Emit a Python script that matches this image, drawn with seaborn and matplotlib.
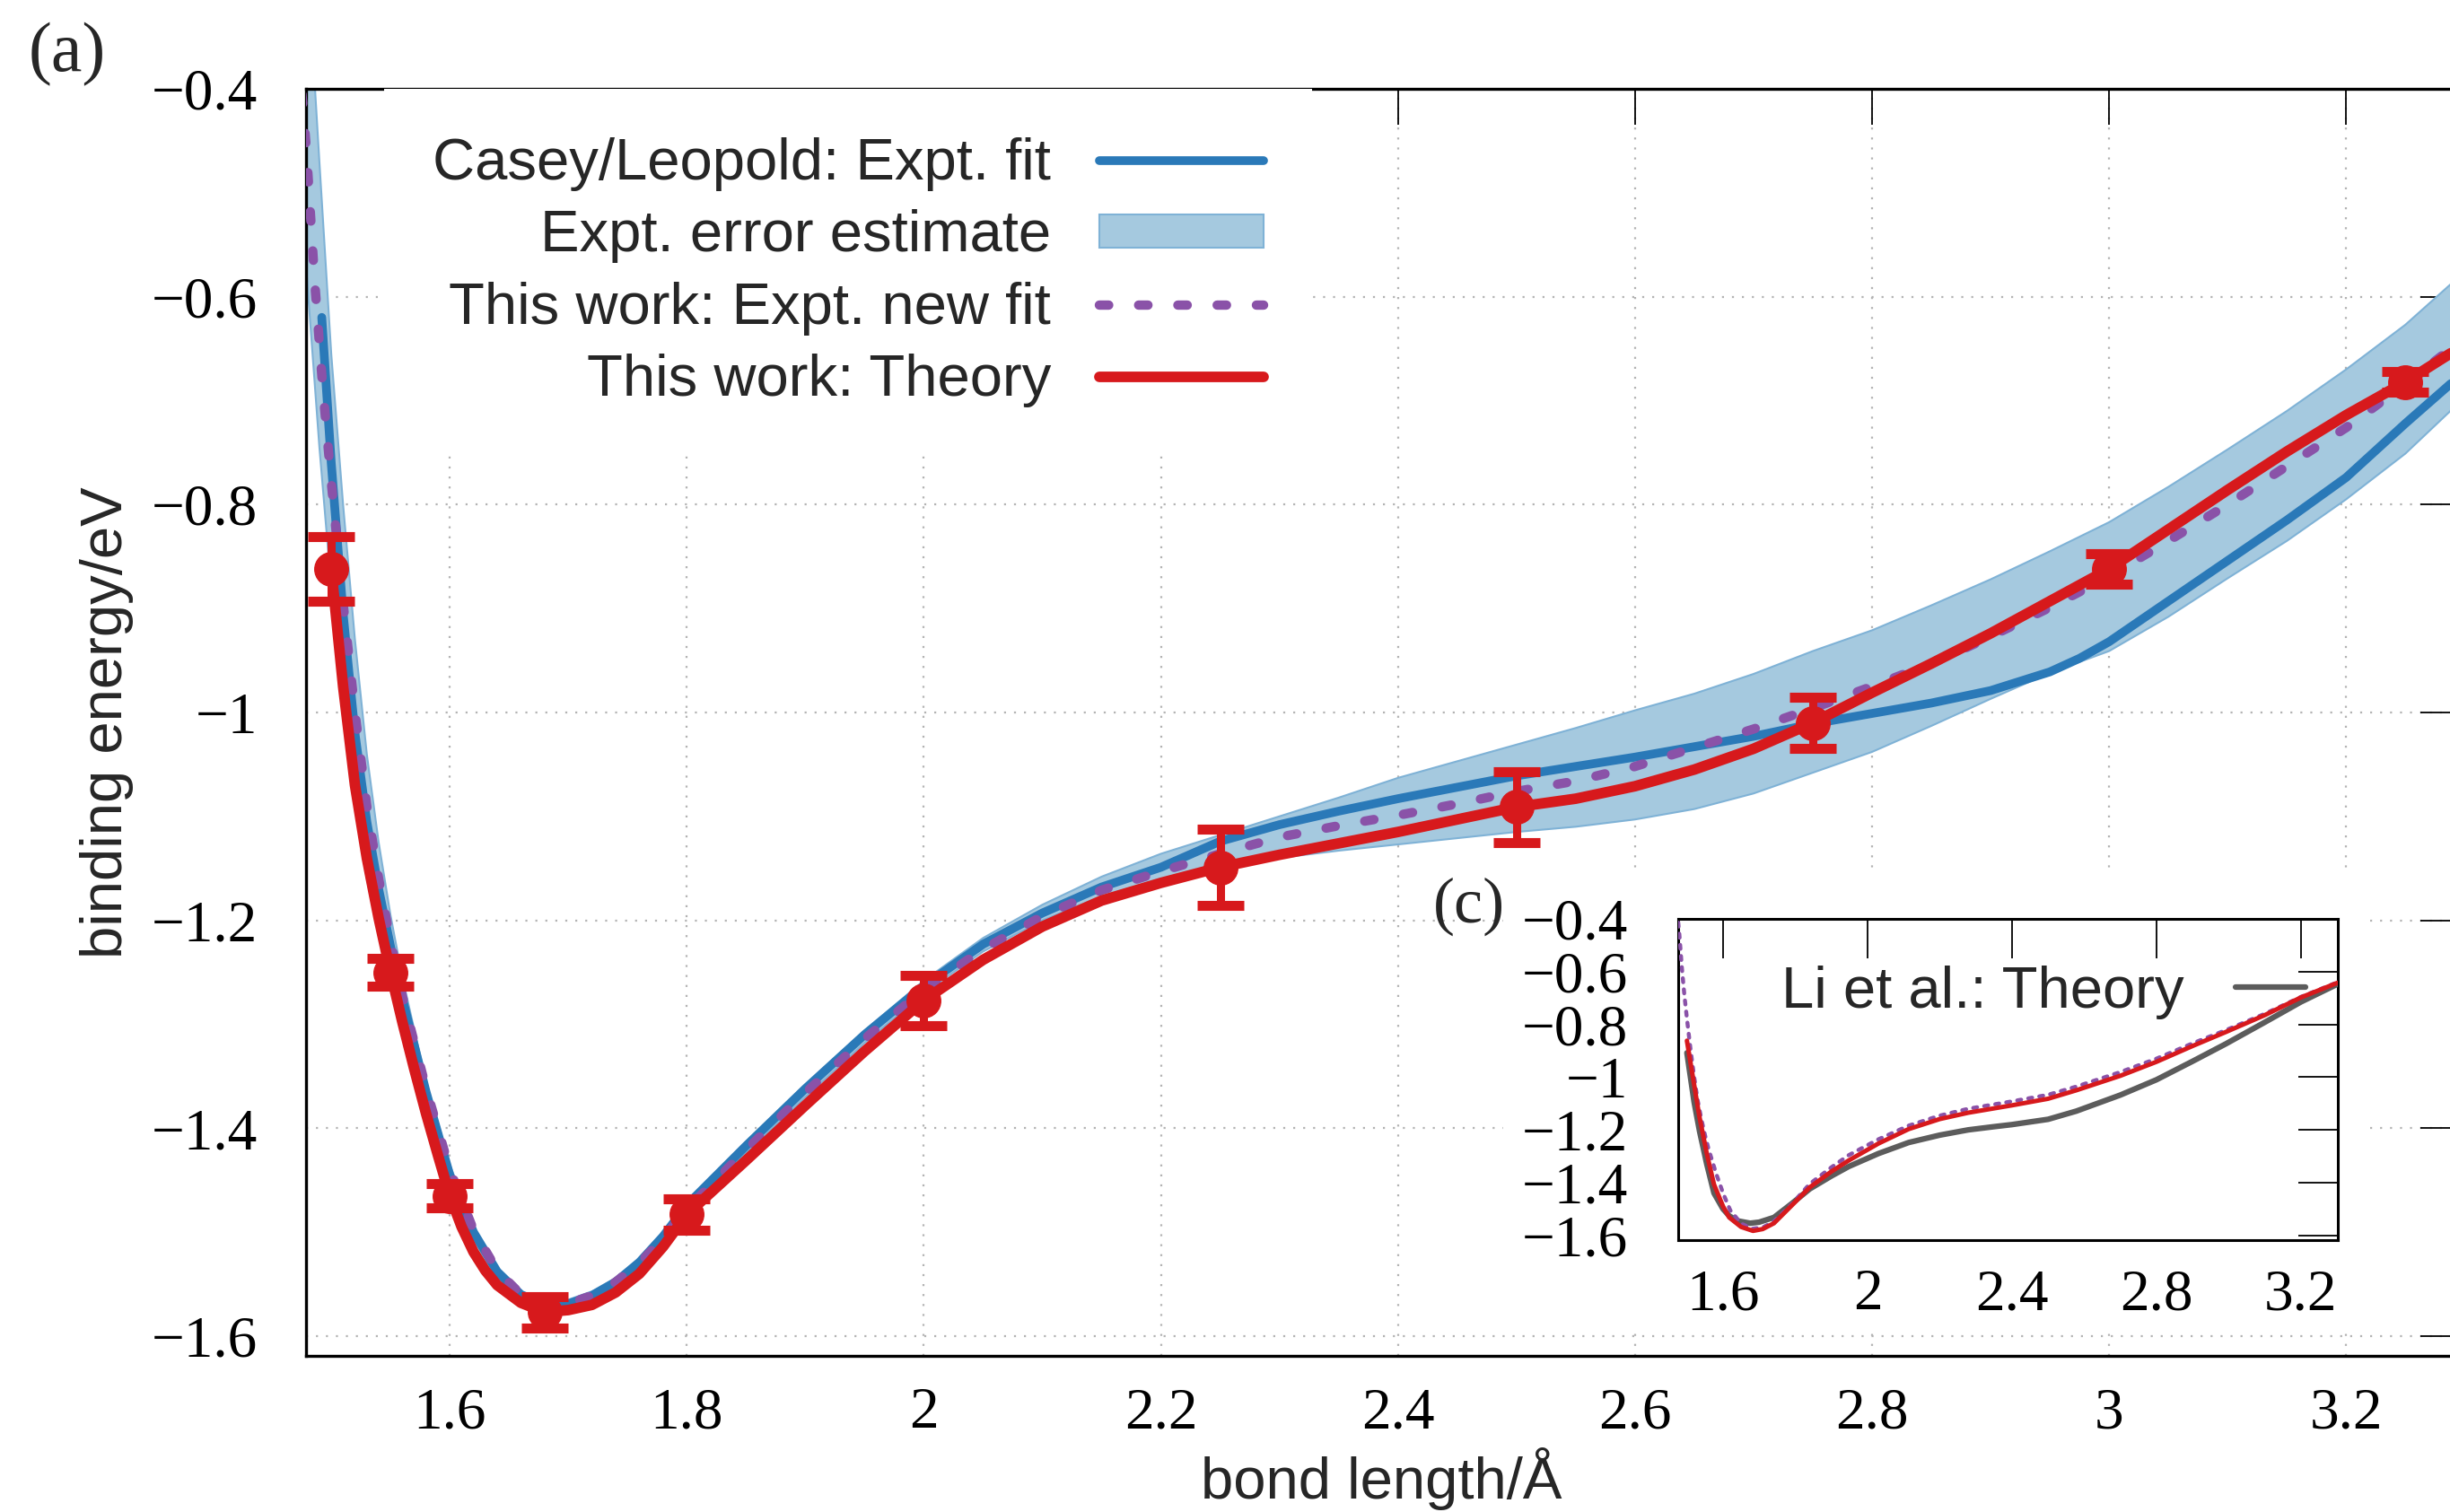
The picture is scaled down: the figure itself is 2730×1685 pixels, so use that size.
import numpy as np
import pandas as pd
import matplotlib
matplotlib.use("Agg")
import matplotlib.pyplot as plt
from matplotlib.patches import Rectangle, Patch
from matplotlib.lines import Line2D
import seaborn as sns

# ---------------- data ----------------
# This work: theory curve (binding energy in eV vs bond length in Angstrom)
theory_x = [1.50, 1.51, 1.52, 1.53, 1.54, 1.55, 1.56, 1.57, 1.58, 1.59, 1.60, 1.61, 1.62,
            1.63, 1.64, 1.66, 1.68, 1.70, 1.72, 1.74, 1.76, 1.78, 1.80, 1.85, 1.90, 1.95,
            2.00, 2.05, 2.10, 2.15, 2.20, 2.25, 2.30, 2.35, 2.40, 2.45, 2.50, 2.55, 2.60,
            2.65, 2.70, 2.75, 2.80, 2.85, 2.90, 2.95, 3.00, 3.05, 3.10, 3.15, 3.20, 3.25, 3.30]
theory_y = [-0.862, -0.975, -1.070, -1.140, -1.198, -1.250, -1.298, -1.343, -1.386, -1.426,
            -1.465, -1.495, -1.519, -1.537, -1.551, -1.568, -1.577, -1.575, -1.570, -1.558,
            -1.540, -1.514, -1.483, -1.431, -1.378, -1.326, -1.277, -1.238, -1.206, -1.181,
            -1.164, -1.149, -1.137, -1.126, -1.115, -1.103, -1.091, -1.083, -1.071, -1.055,
            -1.035, -1.010, -0.981, -0.953, -0.924, -0.893, -0.862, -0.824, -0.786, -0.749,
            -0.714, -0.682, -0.646]

# This work: theory points with uncertainties
pts_x = [1.50, 1.55, 1.60, 1.68, 1.80, 2.00, 2.25, 2.50, 2.75, 3.00, 3.25]
pts_y = [-0.862, -1.250, -1.465, -1.577, -1.483, -1.277, -1.149, -1.091, -1.010, -0.862, -0.682]
pts_err = [0.031, 0.013, 0.012, 0.015, 0.015, 0.024, 0.037, 0.034, 0.025, 0.015, 0.010]

# Casey/Leopold experimental fit
casey_x = [1.492, 1.50, 1.51, 1.52, 1.53, 1.54, 1.55, 1.56, 1.58, 1.60, 1.62, 1.64, 1.66, 1.68,
           1.70, 1.72, 1.74, 1.76, 1.78, 1.80, 1.85, 1.90, 1.95, 2.00, 2.05, 2.10, 2.15, 2.20,
           2.25, 2.30, 2.35, 2.40, 2.45, 2.50, 2.55, 2.60, 2.65, 2.70, 2.75, 2.80, 2.85, 2.90,
           2.95, 2.975, 3.00, 3.05, 3.10, 3.15, 3.20, 3.25, 3.30]
casey_y = [-0.620, -0.760, -0.905, -1.020, -1.105, -1.170, -1.225, -1.275, -1.365, -1.445,
           -1.500, -1.538, -1.560, -1.570, -1.569, -1.561, -1.548, -1.529, -1.504, -1.474,
           -1.417, -1.362, -1.310, -1.263, -1.223, -1.193, -1.168, -1.149, -1.124, -1.108,
           -1.095, -1.083, -1.072, -1.061, -1.052, -1.043, -1.033, -1.023, -1.011, -1.001,
           -0.991, -0.979, -0.961, -0.948, -0.932, -0.893, -0.854, -0.815, -0.774, -0.722,
           -0.672]

# Experimental error estimate (band)
band_x = [1.47, 1.48, 1.49, 1.50, 1.51, 1.52, 1.53, 1.54, 1.55, 1.56, 1.58, 1.60, 1.62, 1.64,
          1.66, 1.68, 1.70, 1.72, 1.74, 1.76, 1.78, 1.80, 1.85, 1.90, 1.95, 2.00, 2.05, 2.10,
          2.15, 2.20, 2.25, 2.30, 2.35, 2.40, 2.45, 2.50, 2.55, 2.60, 2.65, 2.70, 2.75, 2.80,
          2.85, 2.90, 2.95, 3.00, 3.05, 3.10, 3.15, 3.20, 3.25, 3.30]
band_hi = [-0.10, -0.28, -0.47, -0.655, -0.80, -0.93, -1.04, -1.125, -1.195, -1.255, -1.355,
           -1.435, -1.495, -1.535, -1.558, -1.566, -1.565, -1.557, -1.544, -1.525, -1.500,
           -1.470, -1.413, -1.358, -1.306, -1.258, -1.217, -1.185, -1.158, -1.136, -1.118,
           -1.100, -1.082, -1.063, -1.047, -1.031, -1.015, -0.998, -0.982, -0.963, -0.941,
           -0.921, -0.897, -0.872, -0.845, -0.817, -0.783, -0.747, -0.710, -0.670, -0.627,
           -0.576]
band_lo = [-0.42, -0.59, -0.745, -0.88, -1.00, -1.09, -1.16, -1.215, -1.262, -1.305, -1.39,
           -1.46, -1.515, -1.550, -1.570, -1.578, -1.577, -1.568, -1.555, -1.536, -1.511,
           -1.481, -1.424, -1.370, -1.318, -1.270, -1.230, -1.200, -1.177, -1.160, -1.148,
           -1.140, -1.133, -1.127, -1.121, -1.115, -1.110, -1.103, -1.093, -1.078, -1.058,
           -1.038, -1.013, -0.987, -0.962, -0.941, -0.908, -0.871, -0.835, -0.795, -0.751,
           -0.697]

# This work: experimental new fit
newfit_x = [1.470, 1.479, 1.486, 1.493, 1.500, 1.510, 1.520, 1.530, 1.540, 1.550, 1.560, 1.58,
            1.60, 1.62, 1.64, 1.66, 1.68, 1.70, 1.72, 1.74, 1.76, 1.78, 1.80, 1.85, 1.90,
            1.95, 2.00, 2.05, 2.10, 2.15, 2.20, 2.25, 2.30, 2.35, 2.40, 2.45, 2.50, 2.55,
            2.60, 2.65, 2.70, 2.75, 2.80, 2.85, 2.90, 2.95, 3.00, 3.05, 3.10, 3.15, 3.20,
            3.25, 3.30]
newfit_y = [-0.330, -0.458, -0.585, -0.690, -0.778, -0.895, -1.000, -1.090, -1.160, -1.220,
            -1.273, -1.362, -1.440, -1.498, -1.537, -1.560, -1.570, -1.569, -1.561, -1.548,
            -1.530, -1.506, -1.478, -1.421, -1.366, -1.314, -1.267, -1.228, -1.196, -1.171,
            -1.153, -1.136, -1.120, -1.109, -1.099, -1.088, -1.076, -1.066, -1.052, -1.034,
            -1.016, -0.996, -0.975, -0.953, -0.927, -0.899, -0.869, -0.835, -0.800, -0.763,
            -0.726, -0.684, -0.640]

# Inset (c): Li et al. theory
li_x = [1.50, 1.52, 1.535, 1.555, 1.575, 1.60, 1.617, 1.64, 1.675, 1.70, 1.741, 1.79, 1.84,
        1.90, 1.948, 2.03, 2.114, 2.20, 2.279, 2.35, 2.40, 2.50, 2.578, 2.70, 2.80, 2.90,
        2.992, 3.10, 3.20, 3.302]
li_y = [-0.908, -1.095, -1.205, -1.330, -1.440, -1.500, -1.526, -1.545, -1.554, -1.550,
        -1.532, -1.480, -1.424, -1.375, -1.339, -1.290, -1.248, -1.220, -1.200, -1.188,
        -1.180, -1.160, -1.129, -1.068, -1.010, -0.940, -0.874, -0.792, -0.715, -0.647]

# Inset (c): this work, theory and new fit
inset_theory_x = [1.50, 1.534, 1.555, 1.575, 1.60, 1.617, 1.65, 1.683, 1.71, 1.741, 1.79,
                  1.84, 1.90, 1.948, 2.03, 2.114, 2.20, 2.279, 2.40, 2.50, 2.578, 2.70, 2.80,
                  2.90, 2.992, 3.10, 3.20, 3.302]
inset_theory_y = [-0.862, -1.146, -1.290, -1.407, -1.490, -1.532, -1.568, -1.583, -1.576,
                  -1.554, -1.487, -1.418, -1.358, -1.316, -1.252, -1.197, -1.159, -1.135,
                  -1.107, -1.082, -1.050, -0.995, -0.942, -0.882, -0.829, -0.765, -0.698,
                  -0.642]
inset_newfit_x = [1.470, 1.479, 1.486, 1.493, 1.500, 1.510, 1.520, 1.530, 1.540, 1.550,
                  1.560, 1.58, 1.60, 1.62, 1.65, 1.68, 1.71, 1.74, 1.79, 1.84, 1.90, 1.948,
                  2.03, 2.114, 2.20, 2.279, 2.40, 2.50, 2.578, 2.70, 2.80, 2.90, 2.992, 3.10,
                  3.20, 3.302]
inset_newfit_y = [-0.330, -0.458, -0.585, -0.690, -0.778, -0.895, -1.000, -1.090, -1.160,
                  -1.220, -1.273, -1.362, -1.440, -1.505, -1.555, -1.575, -1.570, -1.548,
                  -1.482, -1.405, -1.342, -1.296, -1.236, -1.184, -1.146, -1.120, -1.092,
                  -1.067, -1.036, -0.981, -0.930, -0.872, -0.822, -0.760, -0.696, -0.640]

# ticks
main_xticks = [1.6, 1.8, 2.0, 2.2, 2.4, 2.6, 2.8, 3.0, 3.2]
main_xticklabels = ["1.6", "1.8", "2", "2.2", "2.4", "2.6", "2.8", "3", "3.2"]
yticks = [-1.6, -1.4, -1.2, -1.0, -0.8, -0.6, -0.4]
yticklabels = ["\u22121.6", "\u22121.4", "\u22121.2", "\u22121", "\u22120.8", "\u22120.6", "\u22120.4"]
inset_xticks = [1.6, 2.0, 2.4, 2.8, 3.2]
inset_xticklabels = ["1.6", "2", "2.4", "2.8", "3.2"]

legend_labels = ["Casey/Leopold: Expt. fit", "Expt. error estimate",
                 "This work: Expt. new fit", "This work: Theory"]
inset_label = "Li et al.: Theory"

# ---------------- style ----------------
sns.set_theme(style="white")
plt.rcParams['font.family'] = ['Liberation Sans', 'DejaVu Sans']
plt.rcParams['axes.unicode_minus'] = True

BLUE = "#2a79b8"
BAND = "#a5c9df"
BAND_EDGE = "#7fb2d6"
PURPLE = "#8a52a8"
RED = "#d7191c"
GRAY = "#5c5c5c"
FS = 47
SERIF = "Liberation Serif"

LW_BLUE, LW_PURPLE, LW_RED = 7.0, 7.5, 8.5
DOTS = (0, (1.0, 3.2))

fig = plt.figure(figsize=(27.3, 16.85), dpi=100)
fig.patch.set_facecolor("white")

ax = fig.add_axes([0.1249, 0.1033, 0.8777, 0.8380])
ax.set_zorder(0)

ax.fill_between(band_x, band_lo, band_hi, color=BAND, edgecolor=BAND_EDGE, lw=1.5, zorder=2)
sns.lineplot(x=casey_x, y=casey_y, ax=ax, color=BLUE, lw=LW_BLUE, sort=False, estimator=None,
             zorder=3, solid_capstyle="round")
sns.lineplot(x=newfit_x, y=newfit_y, ax=ax, color=PURPLE, lw=LW_PURPLE, sort=False,
             estimator=None, zorder=4, linestyle=DOTS, dash_capstyle="round")
sns.lineplot(x=theory_x, y=theory_y, ax=ax, color=RED, lw=LW_RED, sort=False, estimator=None,
             zorder=5, solid_capstyle="round")
ax.errorbar(pts_x, pts_y, yerr=pts_err, fmt="o", ms=27, color=RED, ecolor=RED,
            elinewidth=6.5, capsize=19, capthick=8, zorder=6)

ax.set_xlim(1.4787, 3.293)
ax.set_ylim(-1.619, -0.4)
ax.set_xticks(main_xticks, labels=main_xticklabels)
ax.set_yticks(yticks, labels=yticklabels)
ax.tick_params(axis="both", which="major", direction="in", length=29, width=1.3,
               top=True, right=True, labelsize=FS, labelfontfamily=SERIF, colors="black")
ax.tick_params(axis="x", pad=25)
ax.tick_params(axis="y", pad=39)
ax.grid(True, color="#b3b3b3", linestyle=(0, (1, 4)), lw=1.6)
ax.set_axisbelow(True)
for s in ax.spines.values():
    s.set_color("black")
    s.set_linewidth(2.4)

ax.set_xlabel("bond length/\u00c5", fontsize=FS)
ax.set_ylabel("binding energy/eV", fontsize=FS)
ax.xaxis.set_label_coords(0.5, -0.072)
ax.yaxis.set_label_coords(-0.080, 0.5)

handles = [
    Line2D([], [], color=BLUE, lw=LW_BLUE, solid_capstyle="round"),
    Patch(facecolor=BAND, edgecolor=BAND_EDGE, lw=1.5),
    Line2D([], [], color=PURPLE, lw=LW_PURPLE, linestyle=DOTS, dash_capstyle="round"),
    Line2D([], [], color=RED, lw=LW_RED, solid_capstyle="round"),
]
leg = ax.legend(handles, legend_labels, loc="upper right", bbox_to_anchor=(0.4679, 1.0),
                markerfirst=False, frameon=True, fancybox=False, framealpha=1.0,
                facecolor="white", edgecolor="none", fontsize=FS, borderpad=0.83,
                labelspacing=0.31, handlelength=2.8, handletextpad=0.83, handleheight=0.5,
                borderaxespad=0)
leg.set_zorder(10)

# white backdrop behind the inset panel
fig.patches.append(Rectangle((0.6136, 0.1228), 0.352, 0.2998, transform=fig.transFigure,
                             facecolor="white", edgecolor="none", zorder=1))

# ---------------- inset ----------------
axi = fig.add_axes([0.6850, 0.1800, 0.2692, 0.2123])
axi.set_zorder(3)
sns.lineplot(x=li_x, y=li_y, ax=axi, color=GRAY, lw=4.5, sort=False, estimator=None, zorder=3)
sns.lineplot(x=inset_newfit_x, y=inset_newfit_y, ax=axi, color=PURPLE, lw=3.2, sort=False,
             estimator=None, zorder=4, linestyle=(0, (1.0, 1.8)), dash_capstyle="round")
sns.lineplot(x=inset_theory_x, y=inset_theory_y, ax=axi, color=RED, lw=3.6, sort=False,
             estimator=None, zorder=5)
axi.set_xlim(1.476, 3.302)
axi.set_ylim(-1.617, -0.4)
axi.set_xticks(inset_xticks, labels=inset_xticklabels)
axi.set_yticks(yticks, labels=yticklabels)
axi.tick_params(axis="both", which="major", direction="in", length=32, width=1.3,
                top=True, right=True, labelsize=FS, labelfontfamily=SERIF, colors="black")
axi.tick_params(axis="x", pad=23)
axi.tick_params(axis="y", pad=40)
axi.grid(False)
axi.set_facecolor("white")
for s in axi.spines.values():
    s.set_color("black")
    s.set_linewidth(2.2)
axi.legend([Line2D([], [], color=GRAY, lw=4.5)], [inset_label], loc="center right",
           bbox_to_anchor=(0.951, 0.771), markerfirst=False, frameon=False, fontsize=FS,
           borderpad=0, handlelength=1.2, handletextpad=0.88, borderaxespad=0)

# panel tags
fig.text(0.0275, 0.964, "(a)", fontsize=56, family=SERIF, ha="center", va="center")
fig.text(0.5995, 0.4005, "(c)", fontsize=52, family=SERIF, ha="center", va="center",
         zorder=4)

fig.savefig("out.png", dpi=100, facecolor="white")
